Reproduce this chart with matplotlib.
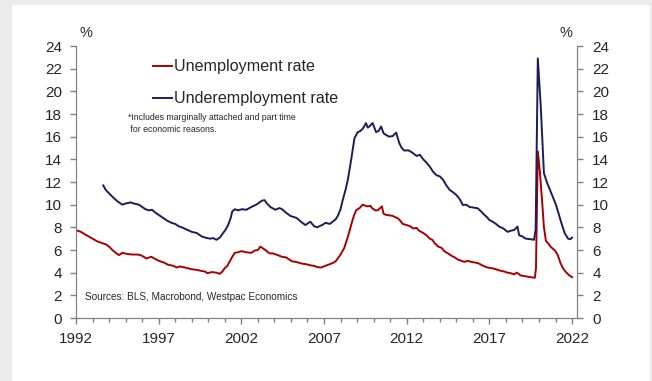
import matplotlib.pyplot as plt
from matplotlib.patches import Rectangle

plt.rcParams["font.family"] = ["Liberation Sans", "DejaVu Sans"]

# values (fractional years, %)
unemp_years = [
    1992.0, 1992.3, 1992.7, 1993.0, 1993.3, 1993.6, 1993.8, 1994.0, 1994.2, 1994.45,
    1994.6, 1994.8, 1995.1, 1995.4, 1995.7, 1995.9, 1996.1, 1996.25, 1996.55, 1996.8,
    1997.0, 1997.3, 1997.57, 1997.9, 1998.1, 1998.27, 1998.6, 1999.0, 1999.3, 1999.6,
    1999.8, 1999.95, 2000.2, 2000.5, 2000.7, 2000.85, 2001.0, 2001.15, 2001.3, 2001.45,
    2001.6, 2001.8, 2002.0, 2002.3, 2002.6, 2002.8, 2003.0, 2003.15, 2003.3, 2003.45,
    2003.7, 2003.9, 2004.2, 2004.46, 2004.7, 2005.07, 2005.3, 2005.67, 2005.9, 2006.17,
    2006.4, 2006.58, 2006.8, 2006.98, 2007.24, 2007.53, 2007.7, 2007.83, 2008.0, 2008.23,
    2008.45, 2008.64, 2008.8, 2008.94, 2009.15, 2009.34, 2009.5, 2009.64, 2009.8, 2009.94,
    2010.1, 2010.25, 2010.5, 2010.6, 2010.75, 2011.0, 2011.16, 2011.46, 2011.6, 2011.76,
    2012.0, 2012.2, 2012.4, 2012.6, 2012.75, 2013.0, 2013.2, 2013.4, 2013.55, 2013.7,
    2013.9, 2014.1, 2014.3, 2014.5, 2014.7, 2014.9, 2015.1, 2015.3, 2015.5, 2015.7,
    2015.9, 2016.1, 2016.3, 2016.5, 2016.7, 2016.9, 2017.1, 2017.3, 2017.6, 2017.9,
    2018.1, 2018.3, 2018.5, 2018.66, 2018.9, 2019.1, 2019.3, 2019.5, 2019.75, 2019.82,
    2019.93, 2020.05, 2020.2, 2020.3, 2020.42, 2020.55, 2020.7, 2020.85, 2021.0, 2021.15,
    2021.3, 2021.45, 2021.6, 2021.8, 2022.0,
]
unemp_rate = [
    7.75, 7.6, 7.25, 7.0, 6.75, 6.6, 6.5, 6.3, 6.0, 5.7,
    5.55, 5.75, 5.65, 5.6, 5.6, 5.55, 5.4, 5.25, 5.4, 5.2,
    5.05, 4.9, 4.7, 4.6, 4.45, 4.55, 4.45, 4.3, 4.25, 4.15,
    4.1, 3.95, 4.05, 4.0, 3.9, 4.1, 4.4, 4.6, 5.0, 5.4,
    5.75, 5.8, 5.9, 5.8, 5.75, 5.95, 6.0, 6.3, 6.15, 6.0,
    5.7, 5.7, 5.55, 5.4, 5.35, 5.0, 4.95, 4.8, 4.75, 4.65,
    4.6, 4.5, 4.45, 4.55, 4.7, 4.85, 5.0, 5.25, 5.6, 6.2,
    7.2, 8.2, 9.0, 9.5, 9.7, 10.0, 9.9, 9.85, 9.9, 9.65,
    9.5, 9.5, 9.85, 9.2, 9.1, 9.05, 9.0, 8.8, 8.6, 8.3,
    8.2, 8.1, 7.9, 7.95, 7.7, 7.5, 7.3, 7.0, 6.9, 6.6,
    6.3, 6.2, 5.86, 5.7, 5.5, 5.35, 5.15, 5.05, 4.95, 5.05,
    4.95, 4.9, 4.85, 4.7, 4.55, 4.45, 4.4, 4.35, 4.2, 4.1,
    4.0, 3.95, 3.85, 4.0, 3.75, 3.7, 3.65, 3.6, 3.55, 4.4,
    14.7, 13.0, 10.1, 8.0, 6.8, 6.6, 6.3, 6.1, 5.9, 5.5,
    4.85, 4.4, 4.1, 3.8, 3.6,
]

under_years = [
    1993.65, 1993.8, 1994.0, 1994.2, 1994.5, 1994.8, 1995.0, 1995.3, 1995.5, 1995.8,
    1996.0, 1996.2, 1996.4, 1996.6, 1996.8, 1997.0, 1997.3, 1997.5, 1997.77, 1998.0,
    1998.2, 1998.4, 1998.7, 1999.0, 1999.3, 1999.6, 1999.8, 2000.1, 2000.3, 2000.5,
    2000.7, 2000.9, 2001.05, 2001.2, 2001.35, 2001.45, 2001.6, 2001.8, 2002.04, 2002.3,
    2002.65, 2002.9, 2003.1, 2003.25, 2003.4, 2003.55, 2003.75, 2004.06, 2004.3, 2004.46,
    2004.7, 2004.97, 2005.2, 2005.37, 2005.6, 2005.87, 2006.17, 2006.4, 2006.58, 2006.88,
    2007.1, 2007.35, 2007.53, 2007.7, 2007.83, 2008.0, 2008.13, 2008.3, 2008.44, 2008.64,
    2008.84, 2009.04, 2009.2, 2009.34, 2009.54, 2009.64, 2009.74, 2009.94, 2010.15, 2010.3,
    2010.45, 2010.6, 2010.75, 2010.95, 2011.16, 2011.36, 2011.56, 2011.7, 2011.86, 2012.1,
    2012.33, 2012.6, 2012.8, 2013.0, 2013.2, 2013.4, 2013.6, 2013.8, 2014.0, 2014.2,
    2014.4, 2014.6, 2014.8, 2015.0, 2015.2, 2015.4, 2015.6, 2015.8, 2016.0, 2016.3,
    2016.5, 2016.7, 2016.85, 2017.0, 2017.2, 2017.4, 2017.6, 2017.85, 2018.1, 2018.3,
    2018.5, 2018.7, 2018.8, 2019.0, 2019.2, 2019.5, 2019.7, 2019.8, 2019.93, 2020.1,
    2020.3, 2020.5, 2020.75, 2021.0, 2021.15, 2021.3, 2021.55, 2021.76, 2021.9, 2022.0,
]
under_rate = [
    11.7, 11.3, 11.0, 10.7, 10.3, 10.0, 10.1, 10.2, 10.1, 10.0,
    9.8, 9.6, 9.5, 9.55, 9.3, 9.1, 8.8, 8.6, 8.4, 8.3,
    8.1, 8.0, 7.8, 7.6, 7.5, 7.2, 7.1, 7.0, 7.05, 6.9,
    7.1, 7.5, 7.8, 8.2, 8.8, 9.4, 9.6, 9.5, 9.6, 9.55,
    9.83, 10.0, 10.2, 10.35, 10.4, 10.1, 9.8, 9.55, 9.7, 9.6,
    9.3, 9.0, 8.9, 8.8, 8.5, 8.2, 8.5, 8.1, 8.0, 8.2,
    8.4, 8.3, 8.5, 8.7, 9.0, 9.6, 10.4, 11.3, 12.2, 13.95,
    15.86, 16.4, 16.5, 16.7, 17.2, 16.8, 16.9, 17.2, 16.4, 16.5,
    16.9, 16.3, 16.15, 16.0, 16.06, 16.36, 15.4, 15.0, 14.77, 14.8,
    14.6, 14.3, 14.4, 14.0, 13.7, 13.35, 12.9, 12.6, 12.5, 12.2,
    11.7, 11.3, 11.1, 10.86, 10.5, 9.97, 10.0, 9.8, 9.75, 9.68,
    9.4, 9.1, 8.9, 8.65, 8.5, 8.3, 8.06, 7.9, 7.6, 7.7,
    7.77, 8.06, 7.3, 7.2, 7.0, 6.95, 6.9, 7.8, 22.9, 18.9,
    12.77, 11.9, 11.0, 10.1, 9.4, 8.65, 7.5, 7.0, 6.95, 7.1,
]

y_ticks = list(range(0, 25, 2))
x_major = list(range(1992, 2023, 5))
x_minor = list(range(1992, 2023))

RED = "#a80000"
NAVY = "#1c1c5a"
SPINE = "#808080"
TEXT = "#262626"

fig = plt.figure(figsize=(6.52, 3.81), dpi=100, facecolor="#ebebeb")
fig.add_artist(Rectangle((12 / 652, 0), 638 / 652, 1 - 5 / 381,
                         transform=fig.transFigure, facecolor="white",
                         edgecolor="none", zorder=0))

ax = fig.add_axes([76 / 652, 1 - 318 / 381, 501 / 652, 272 / 381])
ax.set_facecolor("none")
ax.plot(unemp_years, unemp_rate, color=RED, lw=1.4, label="Unemployment rate")
ax.plot(under_years, under_rate, color=NAVY, lw=1.4, label="Underemployment rate")

ax.set_xlim(1992, 2022.3)
ax.set_ylim(0, 24)
ax.set_yticks(y_ticks)
ax.set_xticks(x_major)
ax.set_xticks(x_minor, minor=True)

for side in ["left", "bottom", "right"]:
    ax.spines[side].set_color(SPINE)
ax.spines["top"].set_visible(False)

ax.tick_params(axis="y", direction="out", length=4, width=1, color=SPINE,
               labelsize=11, labelcolor=TEXT, pad=6)
ax.tick_params(axis="x", which="major", direction="out", length=4, width=1,
               color=SPINE, labelsize=11, labelcolor=TEXT, pad=6)
ax.tick_params(axis="x", which="minor", direction="out", length=3, width=1,
               color=SPINE)

ax2 = ax.twinx()
ax2.set_ylim(0, 24)
ax2.set_yticks(y_ticks)
for side in ["left", "bottom", "right"]:
    ax2.spines[side].set_color(SPINE)
ax2.spines["top"].set_visible(False)
ax2.tick_params(axis="y", direction="out", length=4, width=1, color=SPINE,
                labelsize=11, labelcolor=TEXT, pad=7)

fig.text(86 / 652, 1 - 33 / 381, "%", fontsize=10.5, color=TEXT, ha="center", va="center")
fig.text(566 / 652, 1 - 33 / 381, "%", fontsize=10.5, color=TEXT, ha="center", va="center")

ax.legend(loc="upper left", bbox_to_anchor=(0.141, 0.975), frameon=False,
          fontsize=11.6, handlelength=1.2, handletextpad=0.1, labelspacing=1.05,
          borderaxespad=0, labelcolor=TEXT)

ax.text(0.104, 0.752, "*Includes marginally attached and part time\n for economic reasons.",
        transform=ax.transAxes, fontsize=6.3, color=TEXT, va="top", linespacing=1.3)
ax.text(0.017, 0.077, "Sources: BLS, Macrobond, Westpac Economics",
        transform=ax.transAxes, fontsize=7.2, color=TEXT, va="center")

fig.savefig("out.png", dpi=100, facecolor=fig.get_facecolor())
